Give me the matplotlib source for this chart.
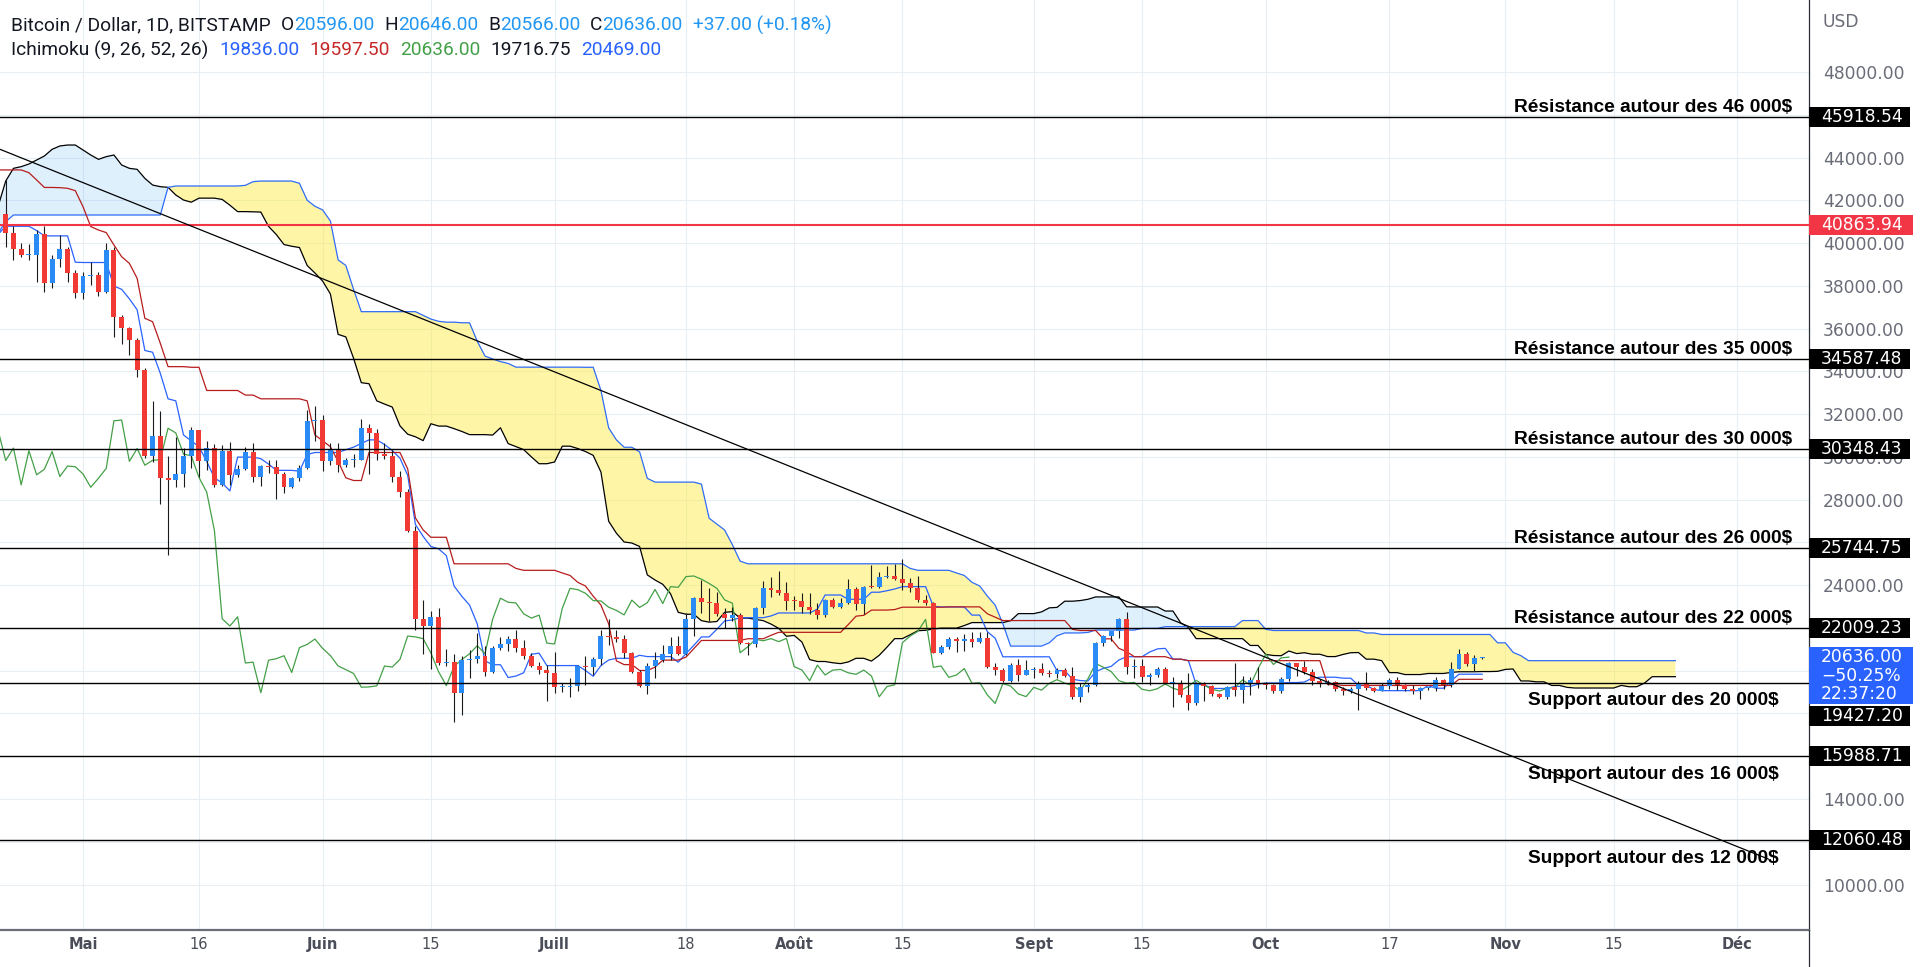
import numpy as np
import matplotlib
matplotlib.use("Agg")
import matplotlib.pyplot as plt
from matplotlib.patches import Rectangle
from matplotlib.lines import Line2D

start = np.datetime64('2022-04-20')

# bougies journalieres BTC/USD (Bitstamp), 20 avril -> 29 octobre 2022
open_ = [41500, 41370, 40480, 39710, 39450, 39460, 40430, 38120, 39240, 39740,
         38590, 37650, 38470, 38520, 37710, 39690, 36550, 36010, 35470, 34040,
         30060, 30980, 29000, 28940, 29200, 30050, 31260, 29830, 30410, 28690,
         30290, 29160, 29420, 30250, 29080, 29570, 29540, 29200, 28580, 29000,
         29460, 31690, 31720, 29790, 30390, 29610, 29840, 29870, 31340, 31120,
         30130, 30050, 29040, 28350, 26550, 22430, 22090, 22520, 20360, 20400,
         18970, 20490, 20560, 20700, 19920, 21080, 21230, 21480, 21040, 20710,
         20220, 20050, 19870, 19230, 19240, 19290, 20220, 20170, 20530, 21620,
         21580, 21500, 20830, 19950, 19300, 20200, 20520, 20790, 21170, 20790,
         22420, 23390, 23200, 23170, 22660, 22460, 22600, 21290, 21250, 22920,
         23850, 23790, 23620, 23280, 23260, 22970, 22820, 22610, 23300, 22960,
         23180, 23800, 23140, 23930, 23900, 24400, 24430, 24280, 24080, 23850,
         23310, 23160, 20840, 21120, 21470, 21400, 21500, 21360, 21510, 20190,
         20030, 19530, 20260, 19800, 20030, 20060, 19900, 19830, 20030, 19750,
         18780, 19260, 19340, 21310, 21620, 21840, 22400, 20160, 20220, 19690,
         19800, 20100, 19410, 19440, 18860, 18470, 19400, 19280, 18910, 18790,
         19220, 19090, 19410, 19580, 19420, 19310, 19060, 19620, 20340, 20160,
         19960, 19530, 19420, 19450, 19130, 19060, 19160, 19380, 19180, 19070,
         19270, 19550, 19330, 19130, 19050, 19170, 19210, 19570, 19330, 20090,
         20770, 20290, 20596]
high = [42200, 42970, 40790, 39990, 39940, 40610, 40800, 39440, 40370, 39830,
        38740, 38660, 39130, 38660, 40020, 39830, 36640, 36090, 35540, 34170,
        32630, 32150, 30040, 30940, 30400, 31410, 31260, 30760, 30600, 30540,
        30710, 29620, 30480, 30630, 29620, 29850, 29850, 29310, 29070, 29620,
        32190, 32380, 31950, 30650, 30650, 29960, 30140, 31770, 31520, 31290,
        30650, 30300, 29350, 28520, 26760, 23300, 22780, 22950, 21000, 20790,
        20700, 20960, 21740, 21140, 21140, 21570, 21600, 21880, 21430, 20840,
        20400, 20260, 20880, 19440, 19650, 20270, 20700, 20650, 21880, 22400,
        21900, 21660, 20890, 20030, 20370, 20880, 21200, 21590, 21620, 22680,
        23460, 24240, 23850, 23700, 22920, 22990, 22680, 21360, 22990, 24210,
        24400, 24680, 24160, 23480, 23620, 23620, 23180, 23340, 23400, 23380,
        24270, 23900, 23960, 24940, 24630, 24900, 24990, 25210, 24320, 24430,
        23540, 23230, 21200, 21590, 21560, 21710, 21820, 21820, 21820, 20340,
        20110, 20340, 20530, 20500, 20190, 20370, 20030, 20110, 20110, 20190,
        19410, 19410, 21360, 21670, 21850, 22450, 22760, 20530, 20530, 19900,
        20160, 20160, 19690, 19560, 19880, 19490, 19490, 19310, 18970, 19300,
        20350, 19770, 19720, 20190, 19480, 19400, 19700, 20390, 20360, 20440,
        20060, 19620, 19550, 19520, 19250, 19220, 19520, 19950, 19220, 19420,
        19670, 19700, 19360, 19340, 19250, 19250, 19700, 19600, 20400, 21012,
        20870, 20750, 20646]
low = [40800, 39820, 39220, 39330, 39200, 38200, 37700, 37880, 38880, 38190,
       37410, 37380, 38050, 37520, 37670, 35610, 35300, 34760, 33740, 29930,
       29770, 27790, 25410, 28600, 28570, 29460, 29070, 29380, 28570, 28640,
       28690, 29070, 29380, 28840, 28640, 29260, 28030, 28290, 28530, 28880,
       29440, 30740, 29350, 29610, 29270, 29520, 29520, 29870, 29210, 29870,
       29910, 28830, 28110, 26500, 21910, 20790, 20100, 20270, 20240, 17620,
       17930, 19660, 20360, 19750, 19880, 20950, 20910, 20880, 20530, 20150,
       19850, 18590, 18940, 19000, 18750, 19050, 19320, 19800, 20270, 21200,
       21350, 20580, 19880, 19220, 18910, 19640, 20420, 20500, 20730, 20730,
       21620, 22710, 22340, 22560, 21980, 22340, 21250, 20730, 21090, 22650,
       23460, 23540, 22840, 22840, 22680, 22650, 22400, 22530, 22910, 22910,
       23120, 22840, 22650, 23880, 23850, 24320, 24240, 23770, 23690, 23230,
       23070, 20810, 20760, 21000, 20890, 20930, 21090, 21310, 20110, 19800,
       19480, 19480, 19530, 19790, 19640, 19790, 19720, 19640, 19690, 18660,
       18550, 18990, 19280, 21160, 21370, 21550, 19860, 19640, 19490, 19330,
       19720, 19380, 18320, 18750, 18178, 18390, 18600, 18810, 18700, 18660,
       18820, 18500, 18860, 19170, 19160, 18950, 18960, 19500, 19760, 19860,
       19340, 19260, 19320, 19030, 18860, 18980, 18183, 19100, 18990, 19070,
       19160, 19100, 19070, 18900, 18660, 19110, 19070, 19160, 19250, 20060,
       20220, 19990, 20566]
close = [41370, 40480, 39710, 39450, 39460, 40430, 38120, 39240, 39740, 38590,
         37650, 38470, 38520, 37710, 39690, 36550, 36010, 35470, 34040, 30060,
         30980, 29000, 28940, 29200, 30050, 31260, 29830, 30410, 28690, 30290,
         29160, 29420, 30250, 29080, 29570, 29540, 29200, 28580, 29000, 29460,
         31690, 31720, 29790, 30390, 29610, 29840, 29870, 31340, 31120, 30130,
         30050, 29040, 28350, 26550, 22430, 22090, 22520, 20360, 20400, 18970,
         20490, 20560, 20700, 19920, 21080, 21230, 21480, 21040, 20710, 20220,
         20050, 19870, 19230, 19240, 19290, 20220, 20170, 20530, 21620, 21580,
         21500, 20830, 19950, 19300, 20200, 20520, 20790, 21170, 20790, 22420,
         23390, 23200, 23170, 22660, 22460, 22600, 21290, 21250, 22920, 23850,
         23790, 23620, 23280, 23260, 22970, 22820, 22610, 23300, 22960, 23180,
         23800, 23140, 23930, 23900, 24400, 24430, 24280, 24080, 23850, 23310,
         23160, 20840, 21120, 21470, 21400, 21500, 21360, 21510, 20190, 20030,
         19530, 20260, 19800, 20030, 20060, 19900, 19830, 20030, 19750, 18780,
         19260, 19340, 21310, 21620, 21840, 22400, 20160, 20220, 19690, 19800,
         20100, 19410, 19440, 18860, 18470, 19400, 19280, 18910, 18790, 19220,
         19090, 19410, 19580, 19420, 19310, 19060, 19620, 20340, 20160, 19960,
         19530, 19420, 19450, 19130, 19060, 19160, 19380, 19180, 19070, 19270,
         19550, 19330, 19130, 19050, 19170, 19210, 19570, 19330, 20090, 20770,
         20290, 20599, 20636]

# Ichimoku (9, 26, 52, 26), un point par jour
tenkan = ([40400, 40785, 40785, 40785, 40785, 40585, 40335, 40335, 40335, 40335,
           39105, 39090, 39090, 39090, 39090, 37990, 37835, 37390, 36880, 34975,
           34895, 33905, 32715, 32620, 31025, 30750, 30475, 29790, 29020, 28780,
           28410, 29990, 29990, 29990, 29915, 29665, 29370, 29370, 29370, 29330,
           30110, 30205, 30205, 30205, 30205, 30335, 30455, 30630, 30795, 30795,
           30580, 30300, 29940, 29135, 26840, 26280, 25810, 25700, 25380, 23960,
           23480, 23070, 22190, 20460, 20280, 20280, 19680, 19750, 19900, 20770,
           20820] + [20240] * 5 + [20010, 19740, 20240, 20500] + [20580] * 3
          + [20720] + [20660] * 4 + [20400, 20800, 21180, 21580, 21580, 21940, 22330, 22370]
          + [22480] * 4 + [22560] + [22700] * 5 + [22880] + [23540] * 3 + [23340] * 3
          + [23670, 23670, 23740, 23820] + [23930] * 4 + [23010] + [22980] * 4
          + [22600, 22600, 21820, 21520] + [20650] * 7 + [20000, 20000, 19600, 19540, 19520]
          + [19955, 20110, 20200, 20500, 20655, 20655, 20655, 20875, 21020, 21045,
             20540, 20540, 20469, 19354, 19354, 19169, 19169, 19169, 19264, 19264,
             19264, 19370, 19425, 19425, 19425, 19445, 19445, 19470, 19650, 19695,
             19695, 19695, 19650, 19650, 19312, 19312, 19122] + [19067] * 6
          + [19305, 19180, 19180, 19530] + [19836] * 4)
kijun = ([43420, 43420, 43420, 43420, 43290, 42950, 42600, 42600, 42590, 42560,
          42450, 41700, 40770, 40610, 40490, 39910, 39360, 39050, 38350, 36480,
          36320, 35310, 34220, 34220, 34220] + [34190] * 2 + [33105] * 5 + [32890] * 2
         + [32715] * 6 + [32620, 31025, 30750, 30475, 29790, 29020, 28895, 28895]
         + [30205] * 5 + [29440, 27145, 26585] + [26240] * 3 + [25000] * 8 + [24785]
         + [24695] * 5 + [24570, 24455, 24135, 23960, 23485, 23070, 22190, 20460, 20285, 20285,
                          20010, 20010, 20165, 20495, 20495, 20495, 20635, 21025] + [21415] * 6
         + [21495] * 3 + [21655] + [21795] * 9 + [22160, 22550, 22590] + [22835] * 3 + [22860]
         + [22970] * 6 + [22985] * 5 + [22660, 22505] + [22345] * 9 + [21935] + [21880] * 3
         + [21490, 21490, 21045, 20890] + [20655] * 5 + [20540] * 2 + [20469] * 18
         + [19354] * 2 + [19309] * 6 + [19311.5] * 9 + [19597.5] * 4)
span_a = ([41700, 42900, 43494, 43572, 43697, 43884, 44071, 44383, 44539, 44585,
           44585, 44352, 44118, 43915, 44040, 44118, 43650, 43494, 43447, 43026,
           42714, 42636, 42605, 42247, 42013, 41910, 42100, 42100, 42100, 42040,
           41770, 41470, 41470, 41460, 41450, 40780, 40400, 39930, 39850, 39790,
           38950, 38600, 38220, 37620, 35730, 35610, 34610, 33470, 33420, 32620,
           32470, 32330, 31450, 31060, 30940, 30760, 31550, 31440, 31440, 31320,
           31190, 31040, 31040, 31040, 31020, 31360, 30620, 30480, 30340, 30000,
           29680, 29680, 29760, 30500, 30500, 30390, 30250, 30070, 29290, 26990,
           26430, 26020, 25970, 25810, 24480, 24240, 24040, 23600, 22730, 22640,
           22640, 22340, 22270, 22300, 22730, 22760, 22460, 22460, 22400, 22340,
           22180, 21980, 21610, 21650, 21340, 20520, 20430, 20430, 20370, 20330,
           20410, 20580, 20580, 20450, 20720, 21100, 21500, 21500, 21680, 21870,
           21890, 21950, 21990, 21990, 21990, 22110] + [22250] * 5
          + [22340, 22670, 22670, 22670, 22750, 22940, 22960, 23250, 23250, 23280, 23340]
          + [23450] * 4 + [22990] + [22980] * 4 + [22790, 22790, 22240, 22010] + [21500] * 7
          + [21180, 21180, 20760, 20710, 20700, 20920, 20800, 20840, 20770, 20770,
             20660, 20660, 20760, 20840, 20850, 20540, 20540, 20470, 19910, 19910]
          + [19820] * 3 + [19870] * 3 + [19920] + [19950] * 3 + [19960, 19960, 19970, 20060, 20080]
          + [19520] * 2 + [19480] * 2 + [19310] * 2 + [19220] + [19190] * 6
          + [19310, 19250, 19250, 19420] + [19720] * 4)
span_b = ([40454, 40999] + [41312] * 20 + [42605] + [42668] * 9 + [42699, 42870]
          + [42900] * 5 + [42793, 42000, 41722, 41548, 41030, 39213, 38953, 37830]
          + [36791] * 8 + [36617, 36445, 36340, 36300, 36300, 36272, 36272, 35407,
                           34715, 34577, 34455, 34369] + [34196] * 9
          + [34190, 34190, 33105, 31355, 30795, 30450, 30450, 30235, 28995] + [28820] * 6
          + [28725, 27130, 26855, 26580, 25895, 25125] + [25000] * 21 + [24785] + [24695] * 5
          + [24570, 24455, 24135, 23960, 23485, 23070, 22190] + [21150] * 5
          + [21305, 21635, 21765, 21765, 21765, 21790] + [21900] * 6 + [21980] * 3
          + [22060] * 10 + [22345] * 3 + [21935] + [21880] * 12 + [21765] * 2 + [21694] * 15
          + [21304, 21304, 20859, 20704] + [20469] * 20)

levels = [45918.54, 40863.94, 34587.48, 30348.43, 25744.75, 22009.23, 19427.20, 15988.71, 12060.48]
level_text = ['Résistance autour des 46 000$', '', 'Résistance autour des 35 000$',
              'Résistance autour des 30 000$', 'Résistance autour des 26 000$',
              'Résistance autour des 22 000$', 'Support autour des 20 000$',
              'Support autour des 16 000$', 'Support autour des 12 000$']

tick_dates = ['2022-05-01', '2022-05-16', '2022-06-01', '2022-06-15', '2022-07-01', '2022-07-18',
              '2022-08-01', '2022-08-15', '2022-09-01', '2022-09-15', '2022-10-01', '2022-10-17',
              '2022-11-01', '2022-11-15', '2022-12-01']
tick_labels = ['Mai', '16', 'Juin', '15', 'Juill', '18', 'Août', '15', 'Sept', '15', 'Oct', '17',
               'Nov', '15', 'Déc']
# graduations de prix cachees par les etiquettes noires/bleues
hidden_ticks = [46000, 26000, 22000, 20000, 18000, 16000, 12000]

trend_dates = ['2022-04-19', '2022-12-05']
trend_prices = [44567, 11194]

W, H = 1920, 967
o = np.array(open_, float); h = np.array(high, float)
l = np.array(low, float); c = np.array(close, float)
n = len(c)
ten = np.array(tenkan, float); kij = np.array(kijun, float)
spa = np.array(span_a, float); spb = np.array(span_b, float)
assert len(o) == len(h) == len(l) == len(ten) == len(kij) == n
assert len(spa) == len(spb) == n + 25
idx = np.arange(n)
xc = np.arange(len(spa))

fig = plt.figure(figsize=(W / 100, H / 100), dpi=100)
ax = fig.add_axes([0, 37 / H, 1809 / W, 930 / H])
ax.set_xlim(0.26, 234.28)
ax.set_ylim(7873, 51367)

# grille
tick_pos = (np.array(tick_dates, dtype='datetime64[D]') - start).astype(int)
ax.set_xticks(tick_pos)
ax.set_xticklabels(tick_labels)
ax.set_yticks(np.arange(10000, 48001, 2000))
ax.yaxis.set_major_formatter(plt.FuncFormatter(
    lambda v, p: '' if int(round(v)) in hidden_ticks else f'{v:.2f}'))
ax.grid(True, color='#e9eef5', lw=0.8, zorder=0)
ax.set_axisbelow(True)
ax.yaxis.tick_right()
ax.tick_params(axis='y', length=0, pad=10, labelsize=12.3, labelcolor='#6a6d78')
ax.tick_params(axis='x', length=0, pad=5, labelsize=10.5, labelcolor='#4a4d58')
for t, lab in zip(ax.get_xticklabels(), tick_labels):
    if not lab.isdigit():
        t.set_fontweight('bold')
for s in ['top', 'left']:
    ax.spines[s].set_visible(False)
ax.spines['right'].set_color('#2a2e39')
ax.spines['right'].set_linewidth(0.9)
ax.spines['bottom'].set_color('#6a6d78')
ax.spines['bottom'].set_linewidth(1.6)

# nuage
ax.fill_between(xc, spa, spb, where=spa >= spb, interpolate=True, color='#2196f3', alpha=0.14, lw=0, zorder=1)
ax.fill_between(xc, spa, spb, where=spa < spb, interpolate=True, color='#ffeb3b', alpha=0.45, lw=0, zorder=1)
ax.plot(xc, spa, color='black', lw=0.9, zorder=3)
ax.plot(xc, spb, color='#2f6cf6', lw=0.9, zorder=3)
ax.plot(idx, ten, color='#2962ff', lw=0.9, zorder=3)
ax.plot(idx, kij, color='#b71c1c', lw=0.9, zorder=3)
ax.plot(idx - 25, c, color='#43a047', lw=0.9, zorder=3)

# bougies
up = c >= o
ax.vlines(idx, l, h, color='#1a1a1a', lw=0.8, zorder=5)
ax.bar(idx, np.maximum(np.abs(c - o), 45), bottom=np.minimum(o, c), width=0.64,
       color=np.where(up, '#2a8af6', '#f23a35'), lw=0, zorder=6)

# lignes horizontales + textes
yt = ax.get_yaxis_transform()
for lev, txt in zip(levels, level_text):
    red = lev == 40863.94
    ax.axhline(lev, color='#f23645' if red else 'black', lw=1.5 if red else 1.0, zorder=7)
    if txt:
        dy = 6.8 if txt.startswith('R') else -12.8
        ax.annotate(txt, xy=(1653 / 1809, lev), xycoords=yt, xytext=(0, dy), textcoords='offset points',
                    ha='center', va='center', fontsize=13.8, fontweight='bold', family='Liberation Sans',
                    color='black', zorder=8)

tx = np.array(trend_dates, dtype='datetime64[D]') - start
ax.plot(tx.astype(int), trend_prices, color='black', lw=0.9, zorder=8)

# etiquettes de prix sur l'axe
ppx = 930 / (51367 - 7873)


def price_box(price, text, fc, right=1910, shift_px=0, lines=1):
    box_h = 20 + 18.5 * (lines - 1)
    top = price - shift_px / ppx + 10 / ppx
    ax.add_patch(Rectangle((1.0, top - box_h / ppx), (right - 1809) / 1809, box_h / ppx, transform=yt,
                           fc=fc, ec='none', clip_on=False, zorder=9))
    ax.text(1821 / 1809, top - box_h / 2 / ppx, text, transform=yt, ha='left', va='center',
            color='white', fontsize=12.3, clip_on=False, zorder=10, linespacing=1.05)


for lev in levels:
    if lev == 40863.94:
        price_box(lev, f'{lev:.2f}', '#f23645', right=1913)
    elif lev == 19427.20:
        price_box(lev, f'{lev:.2f}', 'black', shift_px=33)
    else:
        price_box(lev, f'{lev:.2f}', 'black')
price_box(c[-1], '20636.00\n−50.25%\n22:37:20', '#2962ff', right=1913, lines=3)

fig.text(1823 / W, 1 - 21.6 / H, 'USD', ha='left', va='center', fontsize=12.3, color='#6a6d78')

# separation verticale sous l'axe
fig.add_artist(Line2D([1809 / W, 1809 / W], [0, 37 / H], color='#2a2e39', lw=0.9))

# en-tete
renderer = fig.canvas.get_renderer()


def header(y_px, pieces, size=13.8):
    x = 11
    for txt, col, gap in pieces:
        t = fig.text(x / W, 1 - y_px / H, txt, color=col, fontsize=size, ha='left', va='center',
                     family='Roboto')
        x += t.get_window_extent(renderer=renderer).width + gap


dark = '#131722'
blue = '#2196f3'
header(25, [('Bitcoin / Dollar, 1D, BITSTAMP', dark, 10), ('O', dark, 0), ('20596.00', blue, 10),
            ('H', dark, 0), ('20646.00', blue, 10), ('B', dark, 0), ('20566.00', blue, 10),
            ('C', dark, 0), ('20636.00', blue, 10), ('+37.00 (+0.18%)', blue, 0)])
header(50, [('Ichimoku (9, 26, 52, 26)', dark, 11), ('19836.00', '#2962ff', 10),
            ('19597.50', '#c62828', 10), ('20636.00', '#43a047', 10), ('19716.75', dark, 10),
            ('20469.00', '#2962ff', 0)])

fig.savefig('out.png', dpi=100)
